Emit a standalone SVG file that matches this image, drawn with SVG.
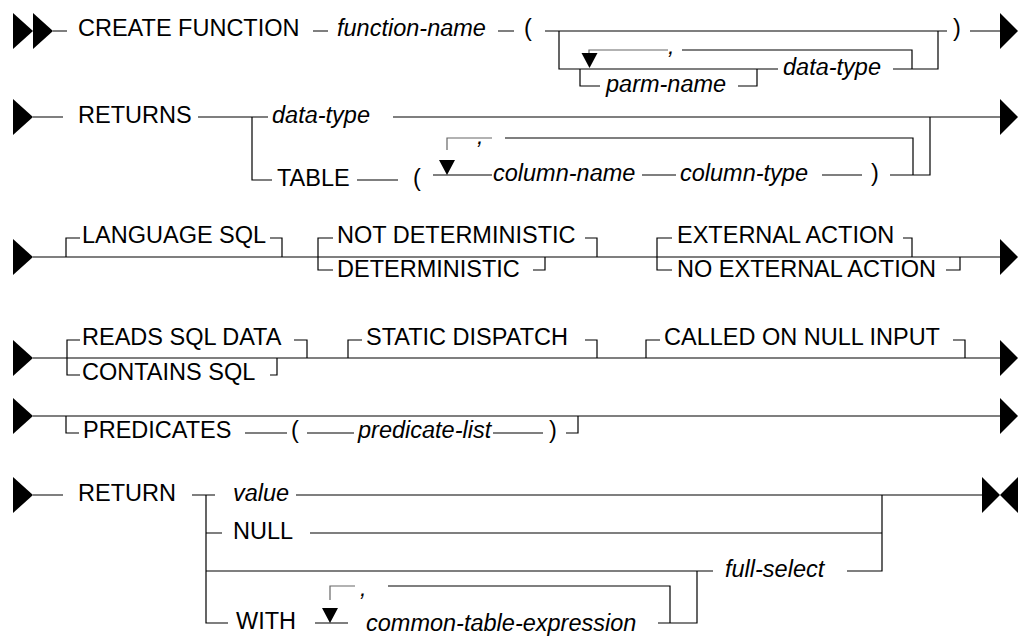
<svg xmlns="http://www.w3.org/2000/svg" xmlns:xlink="http://www.w3.org/1999/xlink" width="1018" height="638" viewBox="0 0 1018 638">
<style>
.ln{fill:none;stroke:#000;stroke-width:1.2}
.gl{fill:none;stroke:#666;stroke-width:1.2}
.hd{fill:#000;stroke:none}
text{font-family:"Liberation Sans",Arial,Helvetica,sans-serif;font-size:23.5px;fill:#000}
.it{font-style:italic}
</style>
<defs>
<polygon id="ra" points="0,-18 20,0 0,18"/>
<polygon id="re" points="0,-18 18,0 0,18"/>
<polygon id="la" points="0,-18 -18,0 0,18"/>
<polygon id="da" points="-8,-15 8,-15 0,0"/>
</defs>
<rect width="1018" height="638" fill="#fff"/>
<g id="connectors">
<!-- row 1 -->
<use xlink:href="#ra" href="#ra" x="13" y="31" class="hd"/>
<use xlink:href="#ra" href="#ra" x="33" y="31" class="hd"/>
<path class="ln" d="M53,31H67M313,31H328M498,31H514M545,31H947M559,31V69H778M893,69H938V31M580,69V86H600M738,86H757V69M912,69V50H682M970,31H1000"/>
<path class="gl" d="M668,50H589V55"/>
<use xlink:href="#da" href="#da" x="589.5" y="68" class="hd"/>
<use xlink:href="#re" href="#re" x="1000" y="31" class="hd"/>
<!-- row 2 -->
<use xlink:href="#ra" href="#ra" x="13" y="117" class="hd"/>
<path class="ln" d="M33,117H63M198,117H268M252,117V180H272M357,180H398M393,117H1000M433,175H492M642,175H676M822,175H862M890,175H930V117M505,138H913V175"/>
<path class="gl" d="M492,138H447V150"/>
<use xlink:href="#da" href="#da" x="447" y="175" class="hd"/>
<use xlink:href="#re" href="#re" x="1000" y="117" class="hd"/>
<!-- row 3 -->
<use xlink:href="#ra" href="#ra" x="13" y="257" class="hd"/>
<path class="ln" d="M33,257H1000M66,257V238H80M270,238H282V257M333,238H318V270H333M585,238H597V257M533,270H545V257M672,238H657V270H672M903,238H912V257M946,270H960V257"/>
<use xlink:href="#re" href="#re" x="1000" y="257" class="hd"/>
<!-- row 4 -->
<use xlink:href="#ra" href="#ra" x="13" y="358" class="hd"/>
<path class="ln" d="M33,358H1000M80,340H67V375H80M294,340H307V358M270,375H277V358M348,358V340H362M585,340H597V358M646,358V340H660M953,340H965V358"/>
<use xlink:href="#re" href="#re" x="1000" y="358" class="hd"/>
<!-- row 5 -->
<use xlink:href="#ra" href="#ra" x="13" y="416" class="hd"/>
<path class="ln" d="M33,416H1000M66,416V433H79M245,433H287M307,433H354M493,433H543M566,433H578V416"/>
<use xlink:href="#re" href="#re" x="1000" y="416" class="hd"/>
<!-- row 6 -->
<use xlink:href="#ra" href="#ra" x="13" y="495" class="hd"/>
<path class="ln" d="M33,495H63M192,495H215M206,495V623H228M296,495H982M206,533H222M310,533H882M206,571H713M847,571H882V495M315,623H348M388,586H670V623M658,623H697V571"/>
<path class="gl" d="M355,586H330V600"/>
<use xlink:href="#da" href="#da" x="330" y="623" class="hd"/>
<use xlink:href="#re" href="#re" x="982" y="495" class="hd"/>
<use xlink:href="#la" href="#la" x="1018" y="495" class="hd"/>
</g>
<g id="n-create-function"><text x="78" y="36">CREATE FUNCTION</text></g>
<g id="n-function-name"><text x="337" y="36" class="it">function-name</text></g>
<g id="n-lparen1"><text x="524" y="36">(</text></g>
<g id="n-comma1"><text x="668" y="54" class="it">,</text></g>
<g id="n-parm-name"><text x="606" y="92" class="it">parm-name</text></g>
<g id="n-data-type1"><text x="783" y="75" class="it">data-type</text></g>
<g id="n-rparen1"><text x="953" y="36">)</text></g>
<g id="n-returns"><text x="78" y="123">RETURNS</text></g>
<g id="n-data-type2"><text x="272" y="123" class="it">data-type</text></g>
<g id="n-table"><text x="277" y="186">TABLE</text></g>
<g id="n-lparen2"><text x="413" y="186">(</text></g>
<g id="n-comma2"><text x="477" y="144" class="it">,</text></g>
<g id="n-column-name"><text x="493" y="181" class="it">column-name</text></g>
<g id="n-column-type"><text x="680" y="181" class="it">column-type</text></g>
<g id="n-rparen2"><text x="871" y="181">)</text></g>
<g id="n-language-sql"><text x="82" y="243">LANGUAGE SQL</text></g>
<g id="n-not-deterministic"><text x="337" y="243">NOT DETERMINISTIC</text></g>
<g id="n-deterministic"><text x="337" y="277">DETERMINISTIC</text></g>
<g id="n-external-action"><text x="677" y="243">EXTERNAL ACTION</text></g>
<g id="n-no-external-action"><text x="677" y="277">NO EXTERNAL ACTION</text></g>
<g id="n-reads-sql-data"><text x="82" y="345">READS SQL DATA</text></g>
<g id="n-contains-sql"><text x="82" y="380">CONTAINS SQL</text></g>
<g id="n-static-dispatch"><text x="366" y="345">STATIC DISPATCH</text></g>
<g id="n-called-on-null-input"><text x="664" y="345">CALLED ON NULL INPUT</text></g>
<g id="n-predicates"><text x="83" y="438">PREDICATES</text></g>
<g id="n-lparen3"><text x="291" y="438">(</text></g>
<g id="n-predicate-list"><text x="358" y="438" class="it">predicate-list</text></g>
<g id="n-rparen3"><text x="549" y="438">)</text></g>
<g id="n-return"><text x="78" y="501">RETURN</text></g>
<g id="n-value"><text x="233" y="501" class="it">value</text></g>
<g id="n-null"><text x="233" y="539">NULL</text></g>
<g id="n-full-select"><text x="725" y="577" class="it">full-select</text></g>
<g id="n-with"><text x="236" y="629">WITH</text></g>
<g id="n-comma3"><text x="360" y="596" class="it">,</text></g>
<g id="n-common-table-expression"><text x="366" y="631" class="it">common-table-expression</text></g>
</svg>
